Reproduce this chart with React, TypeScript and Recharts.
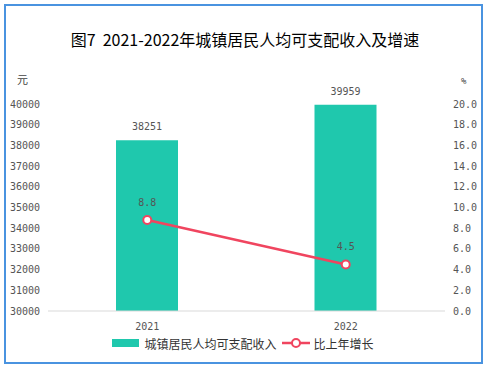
import React from 'react';
import { ComposedChart, Bar, Line, XAxis, YAxis, Legend, LabelList } from 'recharts';

const years = ['2021', '2022'];
const income = [38251, 39959];
const growth = [8.8, 4.5];
const leftTicks = [30000, 31000, 32000, 33000, 34000, 35000, 36000, 37000, 38000, 39000, 40000];
const rightTicks = [0, 2, 4, 6, 8, 10, 12, 14, 16, 18, 20];
const barName = '城镇居民人均可支配收入';
const lineName = '比上年增长';
const title = '图7  2021-2022年城镇居民人均可支配收入及增速';

const data = years.map((y, i) => ({ year: y, income: income[i], growth: growth[i] }));

const BAR = '#1fc8ad';
const LINE = '#f0455f';
const NUM_FONT = '"DejaVu Sans Mono", monospace';
const CJK_FONT = '"Noto Sans CJK SC", sans-serif';

const LegendContent = () => (
  <div style={{ height: 16, display: 'flex', justifyContent: 'center', alignItems: 'center', fontFamily: CJK_FONT, fontSize: 12, color: '#333' }}>
    <svg width={27} height={16} style={{ marginRight: 5 }}>
      <rect x={0} y={4} width={27} height={8} fill={BAR} />
    </svg>
    <span style={{ marginRight: 5 }}>{barName}</span>
    <svg width={28} height={16} style={{ marginRight: 4 }}>
      <line x1={0} y1={8} x2={28} y2={8} stroke={LINE} strokeWidth={2.5} />
      <circle cx={14} cy={8} r={4} fill="#fff" stroke={LINE} strokeWidth={2} />
    </svg>
    <span>{lineName}</span>
  </div>
);

export default function App() {
  return (
    <div style={{ position: 'absolute', left: 0, top: 0, width: 486, height: 367, background: '#fff', overflow: 'hidden' }}>
      <div style={{ position: 'absolute', left: 4, top: 4, width: 479, height: 360, border: '2px solid #4a93e0', boxSizing: 'border-box' }} />
      <div style={{ position: 'absolute', left: 2, top: 28, width: 486, textAlign: 'center', fontFamily: CJK_FONT, fontSize: 16, lineHeight: '22px', color: '#000', whiteSpace: 'pre' }}>{title}</div>
      <div style={{ position: 'absolute', left: 17, top: 71, fontFamily: CJK_FONT, fontSize: 11, lineHeight: '16px', color: '#444' }}>元</div>
      <div style={{ position: 'absolute', left: 461, top: 73, fontFamily: NUM_FONT, fontSize: 9, lineHeight: '16px', color: '#444' }}>%</div>
      <div style={{ position: 'absolute', left: 0, top: 0 }}>
        <ComposedChart width={486} height={367} data={data} margin={{ top: 104, right: 0, left: 0, bottom: 16 }} barCategoryGap={68}>
          <XAxis dataKey="year" height={24} tickLine={false} axisLine={{ stroke: '#d9d9d9' }} tickMargin={6}
            tick={{ fontFamily: NUM_FONT, fontSize: 10, fill: '#555' }} />
          <YAxis yAxisId="left" width={48} domain={[30000, 40000]} ticks={leftTicks} axisLine={false} tickLine={false}
            interval={0} tick={{ fontFamily: NUM_FONT, fontSize: 10, fill: '#555' }} />
          <YAxis yAxisId="right" orientation="right" width={41} domain={[0, 20]} ticks={rightTicks} axisLine={false} tickLine={false}
            interval={0} tickFormatter={(v: number) => v.toFixed(1)} tick={{ fontFamily: NUM_FONT, fontSize: 10, fill: '#555', textAnchor: 'start' }} />
          <Legend verticalAlign="bottom" height={16} content={<LegendContent />} />
          <Bar yAxisId="left" dataKey="income" name={barName} fill={BAR} barSize={62} isAnimationActive={false}>
            <LabelList dataKey="income" position="top" offset={10} style={{ fontFamily: NUM_FONT, fontSize: 10, fill: '#555' }} />
          </Bar>
          <Line yAxisId="right" dataKey="growth" name={lineName} stroke={LINE} strokeWidth={2.5} isAnimationActive={false}
            dot={{ r: 4, fill: '#fff', stroke: LINE, strokeWidth: 2 }} activeDot={false}>
            <LabelList dataKey="growth" position="top" offset={14} formatter={(v: number) => v.toFixed(1)} style={{ fontFamily: NUM_FONT, fontSize: 10, fill: '#555' }} />
          </Line>
        </ComposedChart>
      </div>
    </div>
  );
}
